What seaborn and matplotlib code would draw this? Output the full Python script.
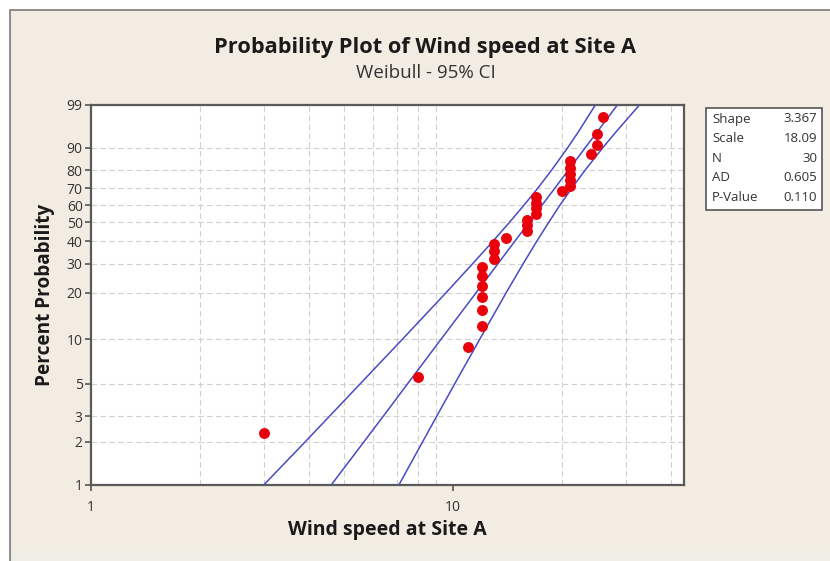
import matplotlib
matplotlib.use("Agg")
import matplotlib.pyplot as plt
from matplotlib.patches import Rectangle
from matplotlib.lines import Line2D
from matplotlib.ticker import FixedLocator, FixedFormatter, NullLocator, NullFormatter
import numpy as np
import seaborn as sns

# --- datos ---
wind_speed = [3, 8, 11, 12, 12, 12, 12, 12, 12, 13, 13, 13, 14, 16, 16, 16,
              17, 17, 17, 17, 20, 21, 21, 21, 21, 21, 24, 25, 25, 26]
percent = [2.3, 5.6, 8.9, 12.2, 15.5, 18.8, 22.0, 25.3, 28.6, 31.9, 35.2, 38.5,
           41.8, 45.1, 48.4, 51.6, 54.9, 58.2, 61.5, 64.8, 68.1, 71.4, 74.7,
           78.0, 81.2, 84.5, 87.8, 91.1, 94.4, 97.7]

line_pct = [1, 2, 3, 5, 10, 20, 30, 40, 50, 60, 70, 80, 90, 95, 99]
fit_x = [4.61, 5.68, 6.42, 7.49, 9.27, 11.59, 13.32, 14.82, 16.23, 17.63,
         19.12, 20.84, 23.18, 25.06, 28.47]
ci_low = [3.00, 3.91, 4.56, 5.54, 7.25, 9.57, 11.34, 12.89, 14.32, 15.72,
          17.16, 18.73, 20.73, 22.23, 24.75]
ci_high = [7.09, 8.25, 9.02, 10.11, 11.86, 14.03, 15.64, 17.04, 18.39, 19.76,
           21.30, 23.18, 25.91, 28.26, 32.76]

stat_names = ["Shape", "Scale", "N", "AD", "P-Value"]
stat_values = ["3.367", "18.09", "30", "0.605", "0.110"]

y_ticks = [1, 2, 3, 5, 10, 20, 30, 40, 50, 60, 70, 80, 90, 99]
x_ticks = [1, 10]
x_grid = [2, 3, 4, 5, 6, 7, 8, 9, 20, 30, 40]

sns.set_theme(style="white")
plt.rcParams['font.family'] = ['Open Sans', 'DejaVu Sans']

W, H = 830, 561
fig = plt.figure(figsize=(W / 100, H / 100), dpi=100)
fig.patch.set_facecolor("white")


def px(x, y):
    return x / W, 1 - y / H


# marco de fondo estilo Minitab
fig.patches.append(Rectangle(px(10, 550), (W - 10) / W + 0.01, 540 / H,
                             transform=fig.transFigure, facecolor="#f3ece3",
                             edgecolor="none", zorder=-10))
fig.patches.append(Rectangle(px(10, H + 2), (W - 10) / W + 0.01, 13 / H,
                             transform=fig.transFigure, facecolor="#efede5",
                             edgecolor="none", zorder=-10))
fig.lines.append(Line2D([10 / W, 10 / W, 1.01], [-0.01, 1 - 10 / H, 1 - 10 / H],
                        transform=fig.transFigure, color="#7a7a7a",
                        linewidth=1.2, zorder=-9))

l, b = px(91, 485)
r, t = px(684, 105)
ax = fig.add_axes([l, b, r - l, t - b])
ax.set_facecolor("white")


def fwd(p):
    p = np.asarray(p, dtype=float)
    with np.errstate(all="ignore"):
        return np.log(-np.log(1 - p / 100.0))


def inv(w):
    w = np.asarray(w, dtype=float)
    with np.errstate(all="ignore"):
        return 100.0 * (1 - np.exp(-np.exp(w)))


ax.set_xscale("log")
ax.set_yscale("function", functions=(fwd, inv))

blue = "#4a4ac4"
for xs in (ci_low, fit_x, ci_high):
    sns.lineplot(x=xs, y=line_pct, sort=False, estimator=None, ax=ax,
                 color=blue, linewidth=1.1, zorder=3)
sns.scatterplot(x=wind_speed, y=percent, ax=ax, color="#e8000b", s=62,
                linewidth=0, zorder=4)

ax.set_xlim(1, 43.5)
ax.set_ylim(1, 99)

ax.xaxis.set_major_locator(FixedLocator(x_ticks))
ax.xaxis.set_major_formatter(FixedFormatter([str(v) for v in x_ticks]))
ax.xaxis.set_minor_locator(FixedLocator(x_grid))
ax.xaxis.set_minor_formatter(NullFormatter())
ax.yaxis.set_major_locator(FixedLocator(y_ticks))
ax.yaxis.set_major_formatter(FixedFormatter([str(v) for v in y_ticks]))
ax.yaxis.set_minor_locator(NullLocator())

ax.tick_params(axis="both", which="major", direction="out", length=4, width=1.2,
               color="#555555", labelsize=10, labelcolor="#333333", pad=2,
               left=True, bottom=True)
ax.tick_params(axis="x", which="major", pad=7)
ax.tick_params(axis="x", which="minor", length=0)
ax.grid(False)
grid_kw = dict(color="#d0d0d0", linestyle=(0, (5, 3)), linewidth=0.8)
ax.grid(axis="x", which="minor", **grid_kw)
ax.grid(axis="y", which="major", **grid_kw)
for s in ax.spines.values():
    s.set_color("#5a5a5a")
    s.set_linewidth(1.6)

ax.set_xlabel("")
ax.set_ylabel("")

fig.text(*px(425, 47), "Probability Plot of Wind speed at Site A", ha="center",
         va="center", fontsize=15.7, fontweight="bold", color="#1a1a1a")
fig.text(*px(426, 73), "Weibull - 95% CI", ha="center", va="center",
         fontsize=13.5, color="#333333")
fig.text(*px(387, 530), "Wind speed at Site A", ha="center", va="center",
         fontsize=14, fontweight="bold", color="#1a1a1a")
fig.text(*px(45, 295), "Percent Probability", ha="center", va="center",
         rotation=90, fontsize=13.7, fontweight="bold", color="#1a1a1a")

# cuadro de estadísticos
bx0, by0 = px(706, 210)
bx1, by1 = px(822, 108)
fig.patches.append(Rectangle((bx0, by0), bx1 - bx0, by1 - by0,
                             transform=fig.transFigure, facecolor="white",
                             edgecolor="#555555", linewidth=1.2, zorder=1))
for i, (name, val) in enumerate(zip(stat_names, stat_values)):
    yy = 119 + i * 19.6
    fig.text(*px(712, yy), name, ha="left", va="center", fontsize=9.5, color="#333333")
    fig.text(*px(817, yy), val, ha="right", va="center", fontsize=9.5, color="#333333")

fig.savefig("out.png", dpi=100)
